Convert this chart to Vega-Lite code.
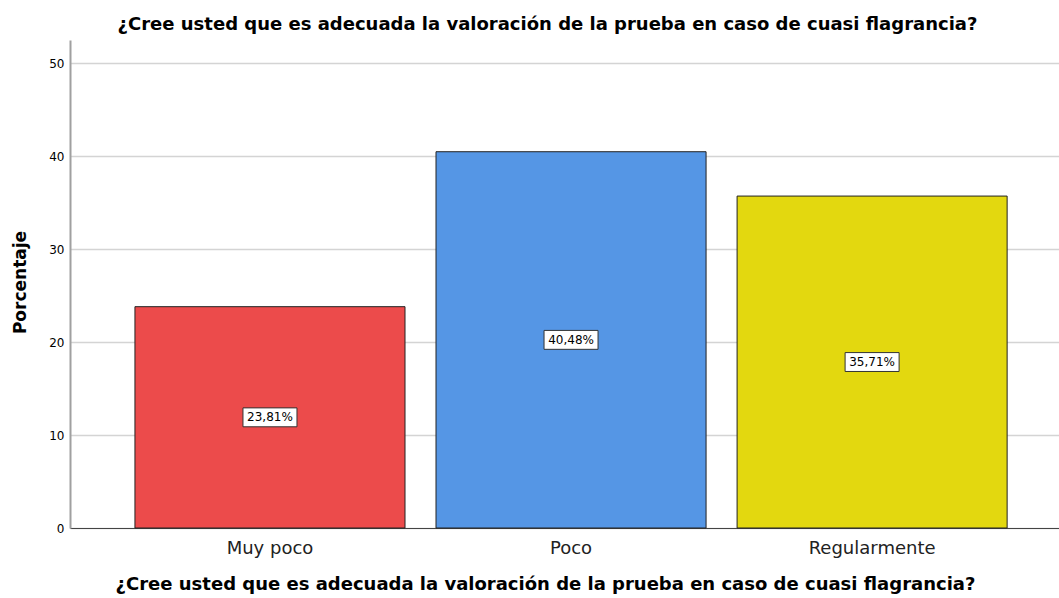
{
  "$schema": "https://vega.github.io/schema/vega-lite/v6.json",
  "autosize": "none",
  "width": 989,
  "height": 488,
  "padding": {"left": 70, "top": 40, "right": 0, "bottom": 70},
  "background": "white",
  "config": {
    "view": {"stroke": null},
    "font": "DejaVu Sans"
  },
  "title": {
    "text": "¿Cree usted que es adecuada la valoración de la prueba en caso de cuasi flagrancia?",
    "font": "DejaVu Sans",
    "fontSize": 18,
    "fontWeight": "bold",
    "color": "#000000",
    "anchor": "middle",
    "frame": "group",
    "dx": -17,
    "offset": 6
  },
  "data": {
    "values": [
      {"categoria": "Muy poco", "porcentaje": 23.81, "mitad": 11.905, "etiqueta": "23,81%"},
      {"categoria": "Poco", "porcentaje": 40.48, "mitad": 20.24, "etiqueta": "40,48%"},
      {"categoria": "Regularmente", "porcentaje": 35.71, "mitad": 17.855, "etiqueta": "35,71%"}
    ]
  },
  "encoding": {
    "x": {
      "field": "categoria",
      "type": "nominal",
      "sort": ["Muy poco", "Poco", "Regularmente"],
      "scale": {"paddingInner": 0.103, "paddingOuter": 0.194, "align": 0.556},
      "axis": {
        "title": "¿Cree usted que es adecuada la valoración de la prueba en caso de cuasi flagrancia?",
        "titleFont": "DejaVu Sans",
        "titleFontSize": 18,
        "titleFontWeight": "bold",
        "titleColor": "#000000",
        "titleX": 475,
        "titleY": 61,
        "titleBaseline": "alphabetic",
        "labelAngle": 0,
        "labelFont": "DejaVu Sans",
        "labelFontSize": 18,
        "labelColor": "#222222",
        "labelPadding": 11,
        "ticks": false,
        "domainColor": "#444444",
        "domainWidth": 1
      }
    }
  },
  "layer": [
    {
      "mark": {"type": "bar", "stroke": "#222222", "strokeWidth": 1},
      "encoding": {
        "y": {
          "field": "porcentaje",
          "type": "quantitative",
          "scale": {"domain": [0, 52.5], "nice": false},
          "axis": {
            "title": "Porcentaje",
            "titleFont": "DejaVu Sans",
            "titleFontSize": 17,
            "titleFontWeight": "bold",
            "titleColor": "#000000",
            "titleX": -50,
            "titleY": 242,
            "titleBaseline": "middle",
            "values": [0, 10, 20, 30, 40, 50],
            "ticks": false,
            "labelFont": "DejaVu Sans",
            "labelFontSize": 12,
            "labelColor": "#000000",
            "labelPadding": 6,
            "grid": true,
            "gridColor": "#d4d4d4",
            "gridWidth": 1.5,
            "domainColor": "#a0a0a0",
            "domainWidth": 2
          }
        },
        "fill": {
          "field": "categoria",
          "type": "nominal",
          "scale": {"domain": ["Muy poco", "Poco", "Regularmente"], "range": ["#ec4b4b", "#5596e5", "#e3d80f"]},
          "legend": null
        }
      }
    },
    {
      "mark": {
        "type": "point",
        "shape": "M-1,-0.35H1V0.35H-1Z",
        "size": 2916,
        "filled": true,
        "fill": "#ffffff",
        "stroke": "#333333",
        "strokeWidth": 1,
        "opacity": 1
      },
      "encoding": {
        "y": {"field": "mitad", "type": "quantitative"}
      }
    },
    {
      "mark": {"type": "text", "font": "DejaVu Sans", "fontSize": 12, "color": "#000000", "baseline": "middle", "align": "center"},
      "encoding": {
        "y": {"field": "mitad", "type": "quantitative"},
        "text": {"field": "etiqueta"}
      }
    }
  ]
}
